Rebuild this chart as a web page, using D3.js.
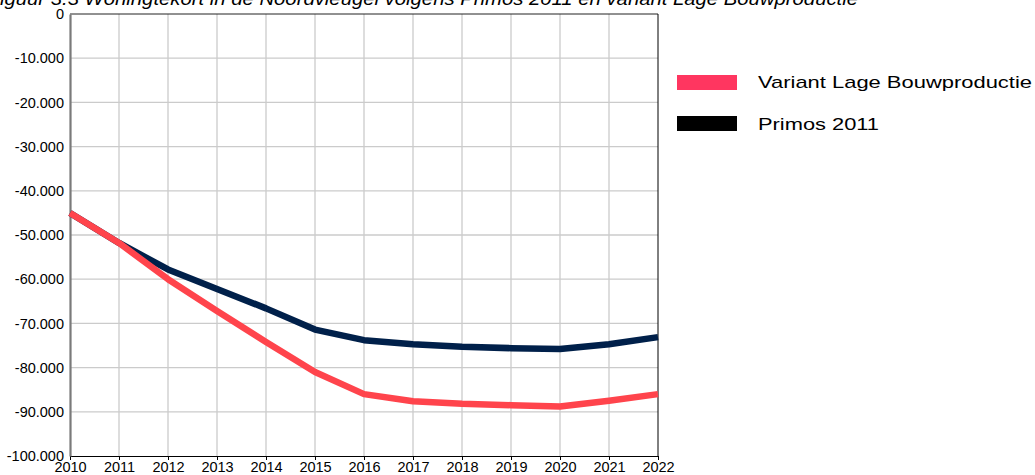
<!DOCTYPE html>
<html>
<head>
<meta charset="utf-8">
<script src="https://cdn.jsdelivr.net/npm/d3@7"></script>
<style>
  html, body { margin: 0; padding: 0; background: #fff; overflow: hidden; }
  svg { display: block; font-family: "Liberation Sans", Arial, sans-serif; }
</style>
</head>
<body>
<svg id="chart" width="1035" height="475"></svg>
<script>
// Woningtekort Noordvleugel, 2010-2022
const years = [2010, 2011, 2012, 2013, 2014, 2015, 2016, 2017, 2018, 2019, 2020, 2021, 2022];
const variantLage = [-45000, -51800, -60000, -67200, -74200, -81000, -86000, -87600, -88200, -88500, -88800, -87500, -86000];
const primos2011 = [-45000, -51800, -57800, -62200, -66600, -71400, -73800, -74700, -75300, -75600, -75800, -74700, -73100];
const yTicks = [0, -10000, -20000, -30000, -40000, -50000, -60000, -70000, -80000, -90000, -100000];
const seriesNames = ["Variant Lage Bouwproductie", "Primos 2011"];
const lineColors = ["#ff444c", "#00204a"];
const legendColors = ["#ff3660", "#000000"];
const title = "Figuur 3.3  Woningtekort in de Noordvleugel volgens Primos 2011 en variant Lage Bouwproductie";

const svg = d3.select("#chart");
const m = { left: 70, right: 658, top: 14, bottom: 456 };

const x = d3.scaleLinear().domain([2010, 2022]).range([m.left, m.right]);
const y = d3.scaleLinear().domain([-100000, 0]).range([m.bottom, m.top]);

const fmt = v => v === 0 ? "0" : d3.format(",")(v).replace(/,/g, ".").replace("−", "-");

// Title, wide lettering running off the top-left corner
const titleText = svg.append("text")
  .attr("y", 4.5)
  .attr("font-size", 18).attr("font-style", "italic")
  .attr("fill", "#000")
  .text(title);
{
  const w0 = titleText.node().getComputedTextLength();
  const probe = svg.append("text").attr("font-size", 18).attr("font-style", "italic").text("F");
  const wF = probe.node().getComputedTextLength();
  probe.remove();
  const titleEnd = 858;
  const s = titleEnd / (w0 - wF);
  const len = s * w0;
  titleText.attr("x", titleEnd - len)
    .attr("textLength", len).attr("lengthAdjust", "spacingAndGlyphs");
}

// Grid
const grid = svg.append("g");
grid.selectAll("line.v").data(years.slice(1, -1)).join("line")
  .attr("x1", d => x(d)).attr("x2", d => x(d))
  .attr("y1", m.top).attr("y2", m.bottom)
  .attr("stroke", "#cbcbcb").attr("stroke-width", 1.3);
grid.selectAll("line.h").data(yTicks.slice(1, -1)).join("line")
  .attr("x1", m.left).attr("x2", m.right)
  .attr("y1", d => y(d)).attr("y2", d => y(d))
  .attr("stroke", "#cbcbcb").attr("stroke-width", 1.3);

// Frame
svg.append("line").attr("x1", m.left).attr("x2", m.right).attr("y1", m.top).attr("y2", m.top)
  .attr("stroke", "#222").attr("stroke-width", 1);
svg.append("line").attr("x1", m.right).attr("x2", m.right).attr("y1", m.top).attr("y2", m.bottom)
  .attr("stroke", "#000").attr("stroke-width", 1);

// Axes
const xAxis = d3.axisBottom(x).tickValues(years).tickFormat(d3.format("d")).tickSize(4).tickSizeOuter(0);
const gx = svg.append("g").attr("transform", `translate(0,${m.bottom})`).call(xAxis);
gx.select(".domain").attr("stroke", "#000").attr("stroke-width", 1.2);
gx.selectAll(".tick line").attr("stroke", "#000");
gx.selectAll(".tick text").attr("font-size", 14.5).attr("font-family", "Liberation Sans, Arial, sans-serif")
  .attr("fill", "#000").attr("y", 6).attr("dy", "0.71em");

const yAxis = d3.axisLeft(y).tickValues(yTicks).tickFormat(fmt).tickSize(0).tickSizeOuter(0);
const gy = svg.append("g").attr("transform", `translate(${m.left},0)`).call(yAxis);
gy.select(".domain").attr("stroke", "#7a7a7a").attr("stroke-width", 2.2);
gy.selectAll(".tick text").attr("font-size", 14.5).attr("font-family", "Liberation Sans, Arial, sans-serif")
  .attr("fill", "#000").attr("x", -6);

// Lines: Primos first, the variant drawn over it
const line = d3.line().x((d, i) => x(years[i])).y(d => y(d));
[[primos2011, lineColors[1]], [variantLage, lineColors[0]]].forEach(([vals, color]) => {
  svg.append("path").datum(vals)
    .attr("d", line)
    .attr("fill", "none")
    .attr("stroke", color)
    .attr("stroke-width", 6.5)
    .attr("stroke-linejoin", "round");
});

// Legend (wide lettering)
const legendWidths = [274, 121];
const legend = svg.append("g");
seriesNames.forEach((name, i) => {
  const ly = 75 + i * 41;
  legend.append("rect").attr("x", 677).attr("y", ly).attr("width", 60).attr("height", 15)
    .attr("fill", legendColors[i]);
  legend.append("text").attr("x", 758).attr("y", ly + 12.5 + i)
    .attr("font-size", 17).attr("fill", "#000")
    .attr("textLength", legendWidths[i]).attr("lengthAdjust", "spacingAndGlyphs")
    .text(name);
});
</script>
</body>
</html>
